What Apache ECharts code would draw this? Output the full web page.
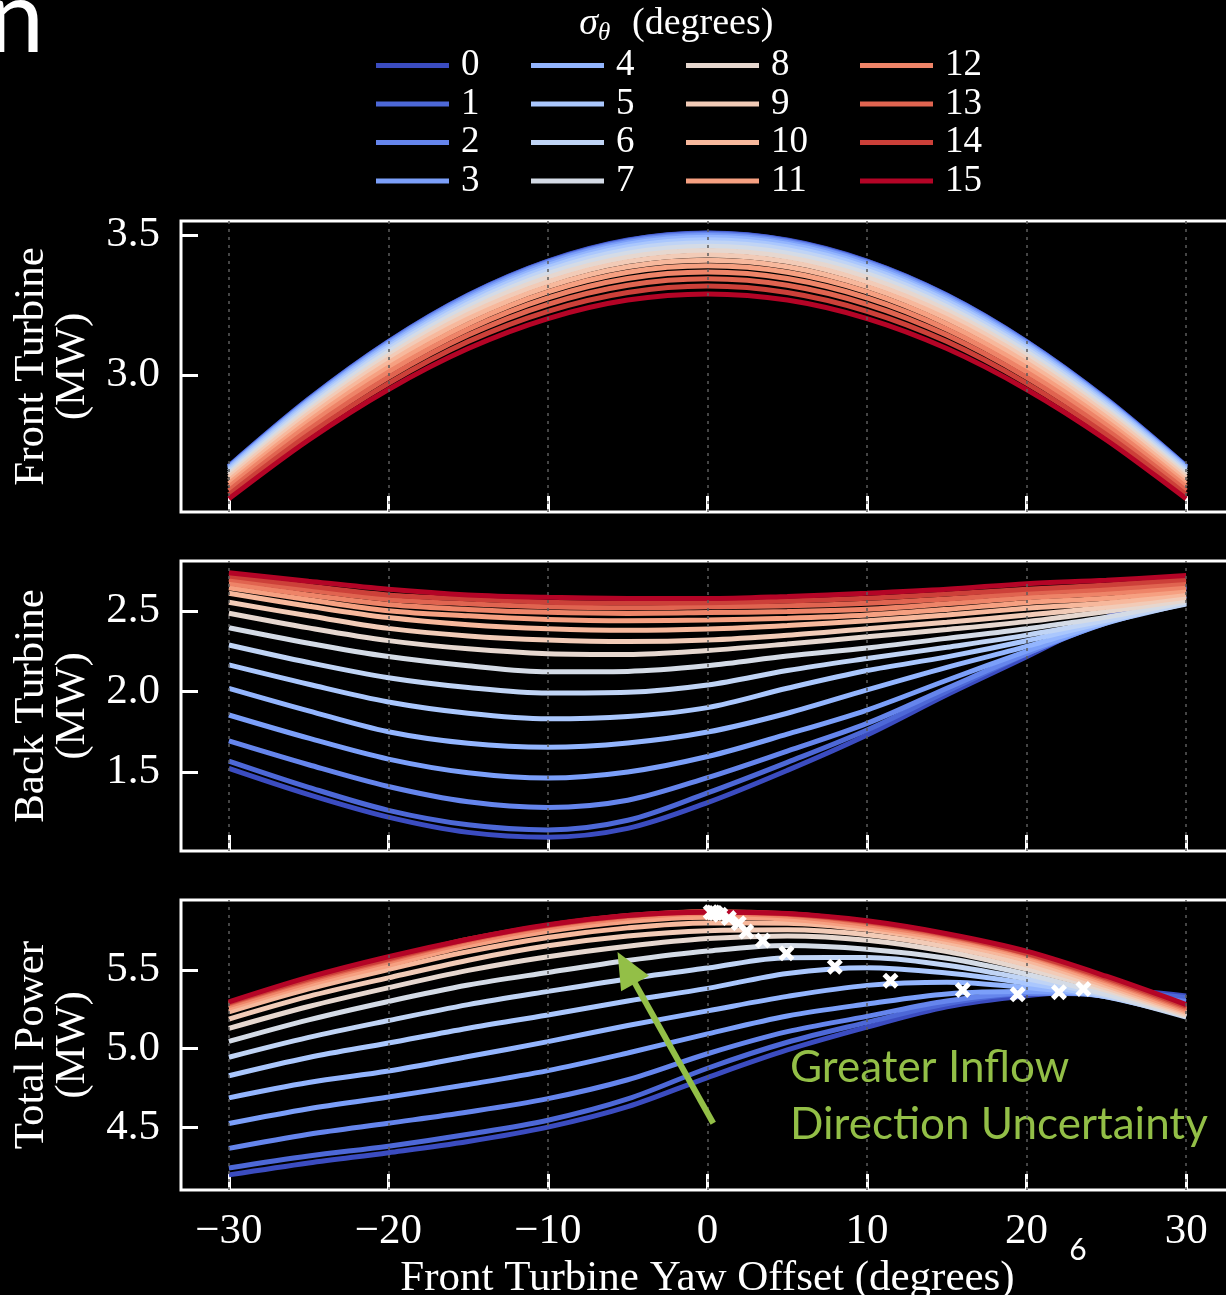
<!DOCTYPE html>
<html><head><meta charset="utf-8">
<script src="https://cdn.jsdelivr.net/npm/echarts@6/dist/echarts.min.js"></script>
<style>html,body{margin:0;padding:0;background:#000}#c{width:1226px;height:1295px}</style>
</head><body><div id="c"></div>
<script>
// ---------- data ----------
const yawDeg = [-30,-25,-20,-15,-10,-5,0,5,10,15,20,25,30];
const sigmaLabels = ['0','1','2','3','4','5','6','7','8','9','10','11','12','13','14','15'];
const sigmaColors = ['#3b4cc0','#4d68d7','#6585ec','#7b9ff9','#93b5fe','#aac7fd','#c0d4f5','#d4dbe6',
                     '#e6d7cf','#f2cbb7','#f7b89c','#f6a081','#ee8468','#e06450','#cc4039','#b40426'];
const xTicks = [-30,-20,-10,0,10,20,30];
const frontTicks = [3.0,3.5];
const backTicks = [1.5,2.0,2.5];
const totalTicks = [4.5,5.0,5.5];

// Front turbine power (MW), one row per sigma
const frontMW = [
 [2.676,2.915,3.120,3.286,3.407,3.482,3.507,3.482,3.407,3.286,3.120,2.915,2.676],
 [2.675,2.914,3.119,3.285,3.406,3.481,3.506,3.481,3.406,3.285,3.119,2.914,2.675],
 [2.674,2.912,3.117,3.283,3.403,3.478,3.503,3.478,3.403,3.283,3.117,2.912,2.674],
 [2.671,2.909,3.113,3.278,3.399,3.473,3.498,3.473,3.399,3.278,3.113,2.909,2.671],
 [2.668,2.905,3.108,3.272,3.392,3.467,3.492,3.467,3.392,3.272,3.108,2.905,2.668],
 [2.663,2.899,3.101,3.265,3.384,3.458,3.483,3.458,3.384,3.265,3.101,2.899,2.663],
 [2.657,2.892,3.093,3.255,3.374,3.448,3.472,3.448,3.374,3.255,3.093,2.892,2.657],
 [2.650,2.883,3.083,3.244,3.362,3.435,3.460,3.435,3.362,3.244,3.083,2.883,2.650],
 [2.643,2.873,3.071,3.232,3.349,3.421,3.445,3.421,3.349,3.232,3.071,2.873,2.643],
 [2.634,2.862,3.058,3.217,3.333,3.405,3.429,3.405,3.333,3.217,3.058,2.862,2.634],
 [2.624,2.850,3.044,3.201,3.316,3.387,3.410,3.387,3.316,3.201,3.044,2.850,2.624],
 [2.613,2.836,3.028,3.183,3.297,3.367,3.390,3.367,3.297,3.183,3.028,2.836,2.613],
 [2.601,2.822,3.011,3.164,3.276,3.345,3.368,3.345,3.276,3.164,3.011,2.822,2.601],
 [2.588,2.805,2.992,3.143,3.253,3.321,3.344,3.321,3.253,3.143,2.992,2.805,2.588],
 [2.574,2.788,2.971,3.120,3.228,3.295,3.318,3.295,3.228,3.120,2.971,2.788,2.574],
 [2.559,2.769,2.949,3.095,3.202,3.268,3.290,3.268,3.202,3.095,2.949,2.769,2.559]
];
// Back turbine power (MW)
const backMW = [
 [1.523,1.360,1.220,1.125,1.095,1.150,1.310,1.510,1.730,1.980,2.216,2.460,2.659],
 [1.568,1.405,1.262,1.172,1.140,1.200,1.370,1.560,1.761,2.000,2.233,2.446,2.650],
 [1.693,1.545,1.410,1.315,1.280,1.325,1.465,1.630,1.802,2.020,2.235,2.433,2.626],
 [1.854,1.710,1.580,1.495,1.462,1.500,1.596,1.735,1.885,2.070,2.250,2.426,2.594],
 [2.020,1.880,1.750,1.678,1.653,1.680,1.748,1.865,2.010,2.150,2.280,2.425,2.562],
 [2.165,2.045,1.935,1.865,1.830,1.845,1.900,2.020,2.130,2.215,2.315,2.431,2.547],
 [2.289,2.180,2.086,2.025,1.990,1.995,2.040,2.130,2.205,2.275,2.350,2.443,2.543],
 [2.396,2.300,2.217,2.160,2.122,2.125,2.160,2.220,2.270,2.330,2.390,2.462,2.555],
 [2.486,2.395,2.316,2.265,2.235,2.230,2.255,2.295,2.340,2.385,2.434,2.497,2.567],
 [2.554,2.470,2.392,2.345,2.320,2.310,2.320,2.350,2.390,2.430,2.475,2.523,2.586],
 [2.610,2.530,2.459,2.415,2.390,2.380,2.388,2.410,2.440,2.475,2.517,2.550,2.606],
 [2.645,2.570,2.502,2.470,2.448,2.440,2.444,2.455,2.475,2.510,2.552,2.579,2.627],
 [2.672,2.600,2.541,2.510,2.492,2.485,2.490,2.497,2.511,2.545,2.583,2.608,2.649],
 [2.697,2.630,2.572,2.545,2.527,2.520,2.526,2.532,2.548,2.575,2.610,2.635,2.672],
 [2.717,2.655,2.600,2.575,2.555,2.550,2.552,2.562,2.579,2.605,2.635,2.662,2.696],
 [2.738,2.685,2.635,2.600,2.585,2.578,2.577,2.590,2.610,2.635,2.670,2.691,2.721]
];
// Total power (MW)
const totalMW = [
 [4.199,4.275,4.340,4.411,4.502,4.632,4.817,4.992,5.137,5.266,5.336,5.375,5.335],
 [4.243,4.319,4.381,4.457,4.546,4.681,4.876,5.041,5.167,5.285,5.352,5.360,5.325],
 [4.367,4.457,4.527,4.598,4.683,4.803,4.968,5.108,5.205,5.303,5.352,5.345,5.300],
 [4.525,4.619,4.693,4.773,4.861,4.973,5.094,5.208,5.284,5.348,5.363,5.335,5.265],
 [4.688,4.785,4.858,4.950,5.045,5.147,5.240,5.332,5.402,5.422,5.388,5.330,5.230],
 [4.828,4.944,5.036,5.130,5.214,5.303,5.383,5.478,5.514,5.480,5.416,5.330,5.210],
 [4.946,5.072,5.179,5.280,5.364,5.443,5.512,5.578,5.579,5.530,5.443,5.335,5.200],
 [5.046,5.183,5.300,5.404,5.484,5.560,5.620,5.655,5.632,5.574,5.473,5.345,5.205],
 [5.129,5.268,5.387,5.497,5.584,5.651,5.700,5.716,5.689,5.617,5.505,5.370,5.210],
 [5.188,5.332,5.450,5.562,5.653,5.715,5.749,5.755,5.723,5.647,5.533,5.385,5.220],
 [5.234,5.380,5.503,5.616,5.706,5.767,5.798,5.797,5.756,5.676,5.561,5.400,5.230],
 [5.258,5.406,5.530,5.653,5.745,5.807,5.834,5.822,5.772,5.693,5.580,5.415,5.240],
 [5.273,5.422,5.552,5.674,5.768,5.830,5.858,5.842,5.787,5.709,5.594,5.430,5.250],
 [5.285,5.435,5.564,5.688,5.780,5.841,5.870,5.853,5.801,5.718,5.602,5.440,5.260],
 [5.291,5.443,5.571,5.695,5.783,5.845,5.870,5.857,5.807,5.725,5.606,5.450,5.270],
 [5.297,5.454,5.584,5.695,5.787,5.846,5.867,5.858,5.812,5.730,5.619,5.460,5.280]
];
// optimum (max total power) markers
const optYaw   = [0.20,0.36,0.50,0.80,1.34,1.96,2.43,3.47,4.95,7.98,11.47,16.00,19.44,22.03,23.56];
const optTotal = [5.867,5.865,5.862,5.850,5.829,5.797,5.744,5.687,5.606,5.521,5.432,5.373,5.345,5.358,5.379];
// annotation arrow (data coords in total-power panel)
const arrowTail = [0.36, 4.527];
const arrowHead = [-5.09, 5.514];

// ---------- chart ----------
const SERIF = '"Liberation Serif", "Times New Roman", serif';
const GREEN = '#93bf47';
const chart = echarts.init(document.getElementById('c'), null, {renderer:'canvas'});
const gridTops = [221, 561, 900];
const gridHeights = [291, 290, 290];
const yRanges = [[2.512,3.55],[1.0093,2.8106],[4.103,5.944]];
const yTickSets = [frontTicks, backTicks, totalTicks];
const yNames = ['Front Turbine\n(MW)','Back Turbine\n(MW)','Total Power\n(MW)'];
const fmtX = v => v < 0 ? '\u2212' + (-v) : String(v);

const grids = gridTops.map((t,i)=>({left:181, top:t, width:1053, height:gridHeights[i],
  containLabel:false, outerBoundsMode:'none',
  show:true, borderColor:'#fff', borderWidth:3, backgroundColor:'transparent'}));

const xAxes = [0,1,2].map(g=>({
  gridIndex:g, type:'value', min:-33, max:33, position:'bottom',
  axisLine:{show:false, onZero:false},
  axisTick:{show:true, inside:true, length:16, customValues:xTicks, lineStyle:{color:'#fff', width:3}},
  axisLabel:{show:g===2, customValues:xTicks, formatter:fmtX, color:'#fff', fontFamily:SERIF, fontSize:43, margin:20},
  splitLine:{show:false},
  name: g===2 ? 'Front Turbine Yaw Offset (degrees)' : '',
  nameLocation:'middle', nameGap:67,
  nameTextStyle:{color:'#fff', fontFamily:SERIF, fontSize:43}
}));
const yAxes = [0,1,2].map(g=>({
  gridIndex:g, type:'value', min:yRanges[g][0], max:yRanges[g][1], position:'left',
  axisLine:{show:false, onZero:false},
  axisTick:{show:true, inside:true, length:17, customValues:yTickSets[g], lineStyle:{color:'#fff', width:3}},
  axisLabel:{customValues:yTickSets[g], formatter:v=>v.toFixed(1), color:'#fff', fontFamily:SERIF, fontSize:43, margin:21},
  splitLine:{show:false},
  name:yNames[g], nameLocation:'middle', nameRotate:90, nameGap:88,
  nameTextStyle:{color:'#fff', fontFamily:SERIF, fontSize:43, lineHeight:41}
}));

const series = [];
// dotted vertical grid lines
[0,1,2].forEach(g=>series.push({
  type:'line', xAxisIndex:g, yAxisIndex:g, data:[], z:1, silent:true,
  markLine:{silent:true, symbol:'none', label:{show:false}, animation:false,
    lineStyle:{color:'#5c5c5c', type:[3,5], width:1.5},
    emphasis:{disabled:true},
    data:xTicks.map(v=>({xAxis:v}))}
}));
[frontMW, backMW, totalMW].forEach((panel,g)=>{
  panel.forEach((vals,i)=>{
    series.push({
      name:sigmaLabels[i], type:'line', xAxisIndex:g, yAxisIndex:g, z:3,
      data:yawDeg.map((x,k)=>[x, vals[k]]),
      showSymbol:false, smooth:0.33, color:sigmaColors[i],
      lineStyle:{width:5, color:sigmaColors[i]}, itemStyle:{color:sigmaColors[i]},
      emphasis:{disabled:true}, silent:true
    });
  });
});
// optimum markers
series.push({
  type:'scatter', xAxisIndex:2, yAxisIndex:2, z:6, silent:true,
  data:optYaw.map((x,k)=>[x, optTotal[k]]),
  symbol:'path://M0,4 L4,0 L9,5 L14,0 L18,4 L13,9 L18,14 L14,18 L9,13 L4,18 L0,14 L5,9 Z',
  symbolSize:16, itemStyle:{color:'#ffffff', opacity:1}
});
// annotation arrow
series.push({
  type:'line', xAxisIndex:2, yAxisIndex:2, data:[], z:7, silent:true,
  markLine:{silent:true, symbol:['none','triangle'], symbolSize:[32,36], label:{show:false},
    animation:false, emphasis:{disabled:true},
    lineStyle:{color:GREEN, width:6, type:'solid'},
    data:[[{coord:arrowTail},{coord:arrowHead}]]}
});

const legendCols = [376, 531, 686, 860];
const legends = legendCols.map((lx,c)=>({
  orient:'vertical', left:lx, top:47, padding:0, selectedMode:false,
  data:sigmaLabels.slice(c*4, c*4+4),
  icon:'rect', itemWidth:73, itemHeight:5, itemGap:1.5,
  textStyle:{color:'#fff', fontFamily:SERIF, fontSize:37, padding:[0,0,0,7]}
}));

chart.setOption({
  backgroundColor:'#000',
  animation:false,
  grid:grids, xAxis:xAxes, yAxis:yAxes,
  legend:legends,
  series:series,
  graphic:[
    {type:'text', x:598, y:24, style:{text:'\u03c3', fill:'#fff', font:'italic 38px '+SERIF, textAlign:'right', textVerticalAlign:'middle'}},
    {type:'text', x:598, y:33, style:{text:'\u03b8', fill:'#fff', font:'italic 25px '+SERIF, textAlign:'left', textVerticalAlign:'middle'}},
    {type:'text', x:632, y:24, style:{text:'(degrees)', fill:'#fff', font:'38px '+SERIF, textAlign:'left', textVerticalAlign:'middle'}},
    {type:'text', x:790, y:1068, style:{text:'Greater Inflow', fill:GREEN, font:'44px Lato', textAlign:'left', textVerticalAlign:'middle'}},
    {type:'text', x:790, y:1125, style:{text:'Direction Uncertainty', fill:GREEN, font:'44px Lato', textAlign:'left', textVerticalAlign:'middle'}},
    {type:'text', x:44, y:20, style:{text:'n', fill:'#fff', font:'100px Lato', textAlign:'right', textVerticalAlign:'middle'}},
    {type:'text', x:1078, y:1250, style:{text:'6', fill:'#fff', font:'30px Lato', textAlign:'center', textVerticalAlign:'middle'}}
  ]
});
</script>
</body></html>
